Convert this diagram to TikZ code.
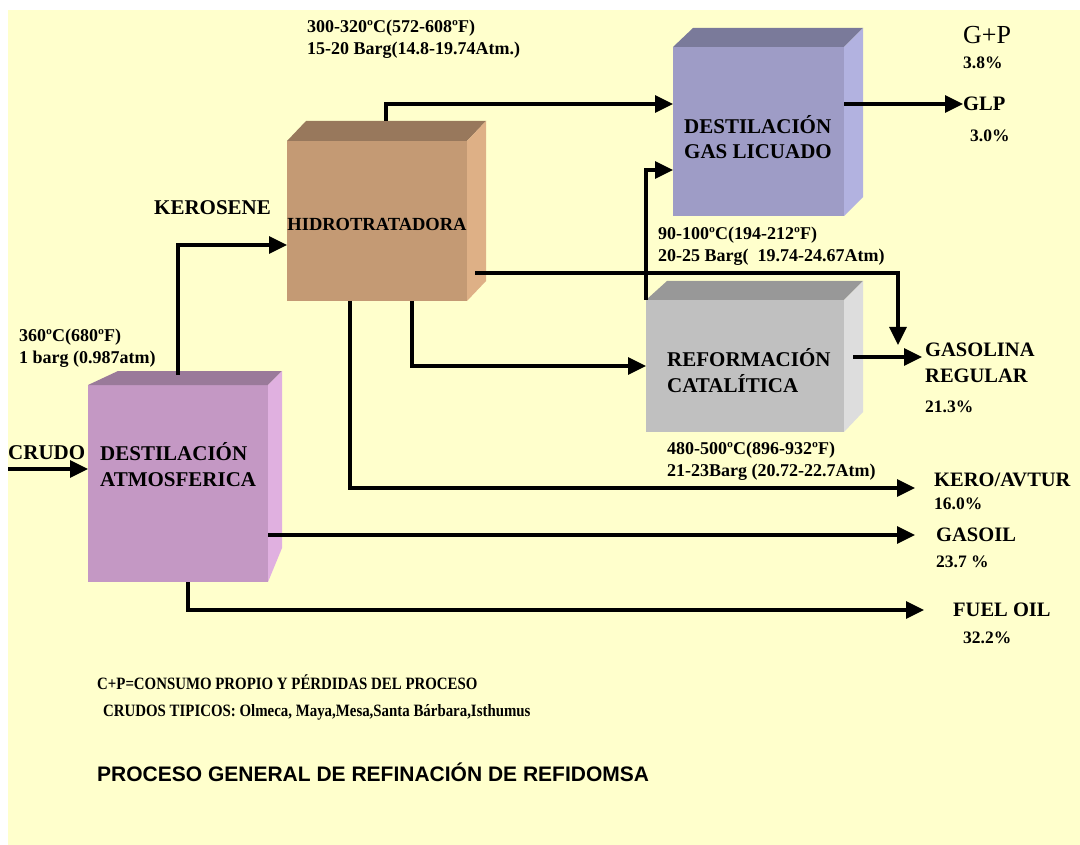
\documentclass[tikz,border=0pt]{standalone}
\usepackage{fontspec}
\setmainfont{Liberation Serif}
\setsansfont{Liberation Sans}
\newfontfamily\narrowserif[FakeStretch=0.86]{Liberation Serif}
\usetikzlibrary{arrows.meta}

\definecolor{fondo}{HTML}{FFFFCC}
\definecolor{atmF}{HTML}{C498C4}
\definecolor{atmT}{HTML}{9A7A9A}
\definecolor{atmS}{HTML}{E0B0E0}
\definecolor{hdtF}{HTML}{C49A74}
\definecolor{hdtT}{HTML}{98785C}
\definecolor{hdtS}{HTML}{DEB086}
\definecolor{glpF}{HTML}{9E9CC6}
\definecolor{glpT}{HTML}{7A7A9A}
\definecolor{glpS}{HTML}{B2B2E0}
\definecolor{refF}{HTML}{C0C0C0}
\definecolor{refT}{HTML}{989898}
\definecolor{refS}{HTML}{DDDDDD}

\begin{document}
\begin{tikzpicture}[x=1pt,y=-1pt,
    flow/.style={line width=3.3pt,-{Triangle[length=18pt,width=17pt]}},
    face/.style={inner sep=0pt,outer sep=0pt},
    boxtext/.style={font=\fontsize{21}{25.5}\selectfont\bfseries,inner sep=0pt,align=left},
    cond/.style={font=\fontsize{18}{22}\selectfont\bfseries,inner sep=0pt,anchor=west,align=left},
    lbl/.style={font=\fontsize{20.5}{25.5}\selectfont\bfseries,inner sep=0pt,anchor=west,align=left},
    pct/.style={font=\fontsize{17.5}{20}\selectfont\bfseries,inner sep=0pt,anchor=west},
    note/.style={font=\narrowserif\fontsize{17.3}{20}\selectfont\bfseries,inner sep=0pt,anchor=west}]

\useasboundingbox (0,0) rectangle (1080,845);
\fill[fondo] (8,10) rectangle (1080,845);

% destilacion atmosferica
\node[face,fill=atmF,minimum width=180pt,minimum height=197pt] (atm) at (178,483.5) {};
\fill[atmT] (atm.north west) -- ++(30,-14) -- ++(164,0) -- (atm.north east) -- cycle;
\fill[atmS] (atm.north east) -- ++(14,-14) -- ++(0,177) -- (atm.south east) -- cycle;
\node[boxtext,anchor=west] (atmlbl) at (100,464.5) {DESTILACIÓN\\ATMOSFERICA};

% hidrotratadora
\node[face,fill=hdtF,minimum width=180pt,minimum height=160pt] (hdt) at (377,221) {};
\fill[hdtT] (hdt.north west) -- ++(19,-20) -- ++(180,0) -- (hdt.north east) -- cycle;
\fill[hdtS] (hdt.north east) -- ++(19,-20) -- ++(0,160) -- (hdt.south east) -- cycle;
\node[boxtext,font=\fontsize{18.5}{22}\selectfont\bfseries] (hdtlbl) at (377,224) {HIDROTRATADORA};

% destilacion gas licuado
\node[face,fill=glpF,minimum width=171pt,minimum height=169pt] (glp) at (758.5,131.5) {};
\fill[glpT] (glp.north west) -- ++(20,-19) -- ++(170,0) -- (glp.north east) -- cycle;
\fill[glpS] (glp.north east) -- ++(19,-19) -- ++(0,169) -- (glp.south east) -- cycle;
\node[boxtext,anchor=west] (glplbl) at (684,137) {DESTILACIÓN\\GAS LICUADO};

% reformacion catalitica
\node[face,fill=refF,minimum width=198pt,minimum height=132pt] (ref) at (745,366) {};
\fill[refT] (ref.north west) -- ++(21,-19) -- ++(196,0) -- (ref.north east) -- cycle;
\fill[refS] (ref.north east) -- ++(19,-19) -- ++(0,131) -- (ref.south east) -- cycle;
\node[boxtext,anchor=west] (reflbl) at (667,370.5) {REFORMACIÓN\\CATALÍTICA};

% condiciones de operacion
\node[cond] (hdtcond) at (307,39) {300-320ºC(572-608ºF)\\15-20 Barg(14.8-19.74Atm.)};
\node[cond] (glpcond) at (658,246) {90-100ºC(194-212ºF)\\20-25 Barg(\ \ 19.74-24.67Atm)};
\node[cond] (refcond) at (667,461) {480-500ºC(896-932ºF)\\21-23Barg (20.72-22.7Atm)};
\node[cond] (atmcond) at (19,348) {360ºC(680ºF)\\1 barg (0.987atm)};

% corrientes y productos
\node[lbl,font=\fontsize{21}{25}\selectfont\bfseries] (crudo) at (8,453) {CRUDO};
\node[lbl,font=\fontsize{21}{25}\selectfont\bfseries] (kerosene) at (154,208) {KEROSENE};
\node[lbl,font=\fontsize{26}{30}\selectfont] (gp) at (963,35) {G+P};
\node[pct] (gppct) at (963,63) {3.8\%};
\node[lbl] (glpout) at (963,104) {GLP};
\node[pct] (glppct) at (970,136) {3.0\%};
\node[lbl] (gasol) at (925,363) {GASOLINA\\REGULAR};
\node[pct] (gasolpct) at (925,407) {21.3\%};
\node[lbl] (kero) at (934,480) {KERO/AVTUR};
\node[pct] (keropct) at (934,504) {16.0\%};
\node[lbl] (gasoil) at (936,535) {GASOIL};
\node[pct] (gasoilpct) at (936,562) {23.7 \%};
\node[lbl] (fuel) at (953,610) {FUEL OIL};
\node[pct] (fuelpct) at (963,638) {32.2\%};

\coordinate (feed) at (8,469);
\coordinate (gasin) at (898,345);

\draw[flow] (feed) -- (feed -| atm.west);
\draw[flow] ([yshift=10pt]atm.north) |- ([yshift=-24pt]hdt.west);
\draw[flow] ([xshift=9pt,yshift=20pt]hdt.north) |- ([yshift=27.5pt]glp.west);
\draw[flow] ([yshift=27.5pt]glp.east) -- (glpout.west);
\draw[flow] (ref.north west) |- ([yshift=-38.5pt]glp.west);
\draw[flow] ([xshift=8pt,yshift=-52pt]hdt.east) -| (gasin);
\draw[flow] ([xshift=9pt,yshift=9pt]ref.east) -- ([xshift=-3pt,yshift=9pt]ref.east -| gasol.west);
\draw[flow] ([xshift=35pt]hdt.south) |- (ref.west);
\draw[flow] ([xshift=-27pt]hdt.south) |- ([xshift=-19pt,yshift=-8pt]kero.west);
\draw[flow] ([yshift=-51.5pt]atm.east) -- ([xshift=-21pt]gasoil.west);
\draw[flow] ([xshift=10pt]atm.south) |- ([xshift=-29pt]fuel.west);

% notas
\node[note] (cp) at (97,682) {C+P=CONSUMO PROPIO Y PÉRDIDAS DEL PROCESO};
\node[note] (crudos) at (103,712) {CRUDOS TIPICOS: Olmeca, Maya,Mesa,Santa Bárbara,Isthumus};
\node[inner sep=0pt,anchor=west,font=\sffamily\bfseries\fontsize{21}{25}\selectfont] (titulo) at (97,772) {PROCESO GENERAL DE REFINACIÓN DE REFIDOMSA};
\end{tikzpicture}
\end{document}
